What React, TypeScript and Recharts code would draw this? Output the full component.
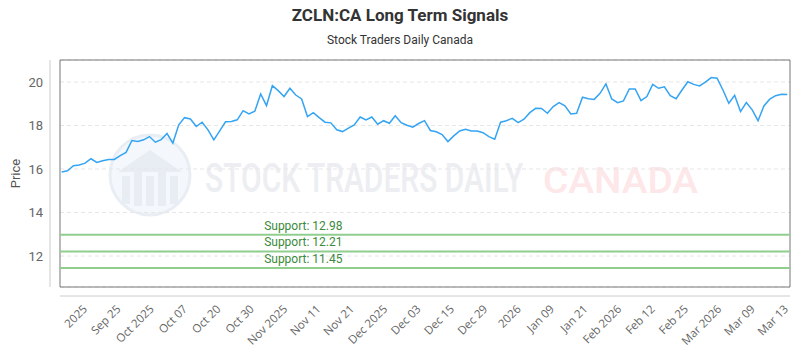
import React from 'react';
import { LineChart, Line, XAxis, YAxis, CartesianGrid, ReferenceLine, ReferenceArea } from 'recharts';

const title = 'ZCLN:CA Long Term Signals';
const subtitle = 'Stock Traders Daily Canada';

const prices: number[] = [
  15.86, 15.92, 16.15, 16.18, 16.27, 16.47, 16.30, 16.38, 16.44, 16.44,
  16.61, 16.76, 17.31, 17.26, 17.34, 17.49, 17.23, 17.35, 17.63, 17.19,
  18.03, 18.36, 18.30, 17.95, 18.15, 17.80, 17.34, 17.75, 18.17, 18.18,
  18.26, 18.68, 18.53, 18.66, 19.45, 18.91, 19.83, 19.60, 19.33, 19.71,
  19.40, 19.22, 18.41, 18.59, 18.36, 18.15, 18.12, 17.80, 17.72, 17.88,
  18.03, 18.39, 18.26, 18.39, 18.06, 18.22, 18.10, 18.45, 18.13, 18.01,
  17.92, 18.09, 18.22, 17.77, 17.71, 17.58, 17.26, 17.52, 17.75, 17.83,
  17.75, 17.75, 17.67, 17.49, 17.37, 18.15, 18.22, 18.33, 18.13, 18.29,
  18.59, 18.79, 18.78, 18.56, 18.87, 19.05, 18.90, 18.53, 18.56, 19.30,
  19.23, 19.20, 19.48, 19.91, 19.22, 19.05, 19.13, 19.68, 19.68, 19.14,
  19.33, 19.89, 19.71, 19.78, 19.37, 19.23, 19.63, 20.01, 19.89, 19.82,
  19.99, 20.20, 20.17, 19.63, 19.02, 19.39, 18.64, 19.05, 18.72, 18.22,
  18.90, 19.21, 19.37, 19.44, 19.42,
];

const tickLabels: string[] = [
  '2025', 'Sep 25', 'Oct 2025', 'Oct 07', 'Oct 20', 'Oct 30', 'Nov 2025', 'Nov 11',
  'Nov 21', 'Dec 2025', 'Dec 03', 'Dec 15', 'Dec 29', '2026', 'Jan 09', 'Jan 21',
  'Feb 2026', 'Feb 12', 'Feb 25', 'Mar 2026', 'Mar 09', 'Mar 13',
];
const tickPositions: number[] = [
  3.5, 9.2, 14.9, 20.6, 26.3, 32.0, 37.7, 43.4, 49.1, 54.8, 60.5,
  66.2, 71.9, 77.6, 83.3, 89.0, 94.8, 100.5, 106.2, 111.9, 117.6, 123.3,
];

const yTicks: number[] = [12, 14, 16, 18, 20];
const supports: number[] = [12.98, 12.21, 11.45];

const xDomain: [number, number] = [-0.29, 124.46];
const yDomain: [number, number] = [10.575, 21.01];

const data = prices.map((price, i) => ({ i, price }));

const XTick = (props: any) => {
  const { x, y, payload } = props;
  const idx = tickPositions.indexOf(payload.value);
  const label = idx >= 0 ? tickLabels[idx] : '';
  return (
    <g transform={`translate(${x},${y + 8})`}>
      <text x={0} y={0} dy="0.71em" textAnchor="end" transform="rotate(-45)" fontSize={11.5} fill="#666" fontFamily="'Open Sans', sans-serif">
        {label}
      </text>
    </g>
  );
};

const supportLabel = (v: number) => (props: any) => {
  const vb = props.viewBox || {};
  const x = (vb.x ?? 0) + (vb.width ?? 0) / 3;
  const y = (vb.y ?? 0) - 5;
  return (
    <text x={x} y={y} textAnchor="middle" fill="#3b8a3b" fontSize={12} fontFamily="Roboto, sans-serif">
      {`Support: ${v.toFixed(2)}`}
    </text>
  );
};

const priceLabel = (props: any) => {
  const vb = props.viewBox || {};
  const cx = (vb.x ?? 0) + 15;
  const cy = (vb.y ?? 0) + (vb.height ?? 0) / 2;
  return (
    <text x={cx} y={cy} transform={`rotate(-90 ${cx} ${cy})`} textAnchor="middle" dominantBaseline="central" fill="#555" fontSize={13} fontFamily="Roboto, sans-serif">
      Price
    </text>
  );
};

const Watermark = () => (
  <svg width={800} height={350} style={{ position: 'absolute', left: 0, top: 0 }}>
    <text x={400} y={21} textAnchor="middle" fontSize={17} fontWeight={700} fill="#333" fontFamily="Roboto, sans-serif">{title}</text>
    <text x={400} y={44} textAnchor="middle" fontSize={12} fill="#333" fontFamily="Roboto, sans-serif">{subtitle}</text>
    <g>
      <circle cx={150} cy={175} r={40} fill="#f4f7fb" stroke="#e9eef4" strokeWidth={3} />
      <polygon points="118,172 150,150 182,172" fill="#e8edf4" />
      <rect x={122} y={176} width={8} height={28} fill="#e8edf4" />
      <rect x={134} y={172} width={8} height={34} fill="#e8edf4" />
      <rect x={146} y={176} width={8} height={30} fill="#e8edf4" />
      <rect x={158} y={170} width={8} height={36} fill="#e8edf4" />
      <rect x={170} y={176} width={8} height={28} fill="#e8edf4" />
    </g>
    <g transform="translate(205,192) scale(0.74,1)">
      <text x={0} y={0} fontSize={40} fontWeight={500} fill="#eceef2" fontFamily="Roboto, sans-serif" textLength={430} lengthAdjust="spacingAndGlyphs">STOCK TRADERS DAILY</text>
    </g>
    <g transform="translate(543,193)">
      <text x={0} y={0} fontSize={37} fontWeight={500} fill="#fde7e9" fontFamily="Roboto, sans-serif" textLength={155} lengthAdjust="spacingAndGlyphs">CANADA</text>
    </g>
  </svg>
);

export default function App() {
  return (
    <div style={{ position: 'absolute', left: 0, top: 0, width: 800, height: 350, background: '#fff' }}>
      <Watermark />
      <div style={{ position: 'absolute', left: 0, top: 0 }}>
        <LineChart width={800} height={350} data={data} margin={{ top: 60, right: 10, bottom: 0, left: 0 }}>
          <XAxis xAxisId="inner" type="number" dataKey="i" domain={xDomain} height={9} axisLine={false} tickLine={false} tick={false} allowDataOverflow />
          <XAxis xAxisId="main" type="number" dataKey="i" domain={xDomain} ticks={tickPositions} interval={0} height={54} axisLine={{ stroke: '#ccc' }} tickLine={false} tickSize={0} tickMargin={0} tick={<XTick />} allowDataOverflow />
          <YAxis yAxisId="inner" type="number" width={10} domain={yDomain} axisLine={false} tickLine={false} tick={false} allowDataOverflow />
          <YAxis yAxisId="main" type="number" width={50} domain={yDomain} ticks={yTicks} interval={0} axisLine={{ stroke: '#ccc' }} tickLine={false} tickSize={0} tickMargin={7} tick={{ fill: '#666', fontSize: 13, fontFamily: 'Roboto, sans-serif' }} label={priceLabel} allowDataOverflow />
          <CartesianGrid xAxisId="main" yAxisId="main" vertical={false} stroke="#e6e6e6" strokeDasharray="4 3" />
          {supports.map((v) => (
            <ReferenceLine key={v} xAxisId="main" yAxisId="main" y={v} stroke="#8fce8f" strokeWidth={2} label={supportLabel(v)} />
          ))}
          <Line xAxisId="main" yAxisId="main" type="linear" dataKey="price" stroke="#35a4f3" strokeWidth={1.5} dot={false} isAnimationActive={false} />
          <ReferenceArea xAxisId="main" yAxisId="main" x1={xDomain[0]} x2={xDomain[1]} y1={yDomain[0]} y2={yDomain[1]} fill="none" fillOpacity={0} stroke="#777" strokeWidth={1} ifOverflow="visible" />
        </LineChart>
      </div>
    </div>
  );
}
